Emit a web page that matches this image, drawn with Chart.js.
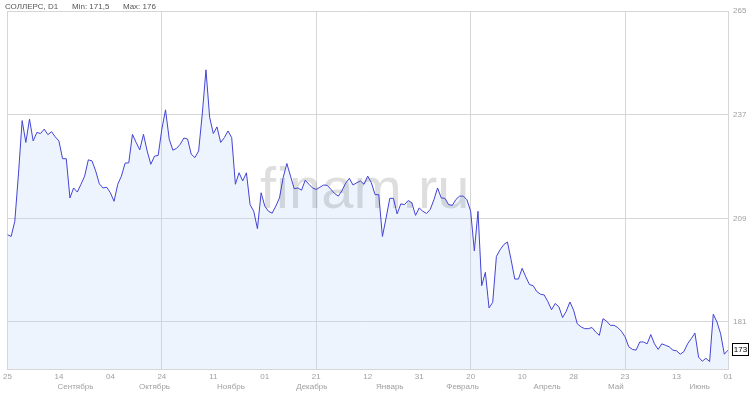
<!DOCTYPE html>
<html><head><meta charset="utf-8">
<script src="https://cdn.jsdelivr.net/npm/chart.js@4.4.1/dist/chart.umd.min.js"></script>
<style>
html,body{margin:0;padding:0;background:#fff;}
#wrap{position:relative;width:750px;height:394px;overflow:hidden;}
canvas{position:absolute;left:0;top:0;}
.hdr{position:absolute;top:2px;font:8px "Liberation Sans",Arial,sans-serif;color:#555;white-space:nowrap;}
</style></head><body>
<div id="wrap">
<canvas id="c" width="750" height="394"></canvas>
<span class="hdr" style="left:5px">СОЛЛЕРС, D1</span>
<span class="hdr" style="left:72px">Min: 171,5</span>
<span class="hdr" style="left:123px">Max: 176</span>
</div>
<script>
const prices = [
204.6,204.1,208.2,221,235.4,229.5,235.8,229.9,232.2,231.9,
233.1,231.6,232.4,231.0,229.9,225.1,225.1,214.5,217.2,216.1,
218.2,220.4,224.8,224.5,221.8,218.3,217.2,217.4,215.9,213.6,
218.2,220.4,223.9,224.0,231.7,229.5,227.5,231.7,227.2,223.6,
225.8,226.0,233.1,238.3,230.4,227.4,227.9,229.0,230.7,230.4,
226.3,225.4,227.2,237.2,249.1,236.3,231.9,233.7,229.5,230.8,
232.6,230.8,218.2,221.3,219.1,221.3,212.7,210.9,206.2,215.9,
212.3,210.9,210.4,212.3,214.5,220,223.8,220.4,217.0,217.2,
216.6,219.3,218.2,217.2,216.8,217.4,218.0,217.9,216.8,215.7,
215.0,216.5,218.5,219.8,218.0,218.6,219.1,218.2,220.4,218.6,
215.4,215.4,204.1,209.1,214.4,214.4,210.2,212.9,212.7,213.8,
213.2,209.8,211.8,210.9,210.3,211.4,214,217.2,214.5,214.4,
212.7,212.5,214.1,215.0,215.0,214,210.9,200.2,210.9,190.8,
194.4,184.8,186.3,198.7,200.5,201.9,202.6,197.8,192.6,192.6,
195.5,193.2,191.1,190.8,189.2,188.5,188.3,186.5,184.3,186.0,
185.1,182.2,183.9,186.4,184.2,180.5,179.7,179.2,179.2,179.5,
178.3,177.4,181.9,181.2,180.1,180.1,179.5,178.5,177.0,174.3,
173.6,173.4,175.6,175.6,175.1,177.6,175.1,173.6,175.1,174.7,
174.3,173.4,173.2,172.3,173.0,175.1,176.5,178.0,171.5,170.4,
171.2,170.3,183.1,181.0,177.8,172.3,173.4
];
const dayTickIdx = [0,14,28,42,56,70,84,98,112,126,140,154,168,182,196];
const dayLabels = ['25','14','04','24','11','01','21','12','31','20','10','28','23','13','01'];
const monthIdx = [18.5,40,60.8,82.8,104,123.8,146.8,165.5,188.3];
const monthLabels = ['Сентябрь','Октябрь','Ноябрь','Декабрь','Январь','Февраль','Апрель','Май','Июнь'];
const yTicks = [181,209,237,265];

const axisFont = {family:'"Liberation Sans", Arial, sans-serif', size:8};
const axisColor = '#a0a0a0';
const gridColor = '#d6d6d6';

const watermark = {
  id:'watermark',
  beforeDatasetsDraw(chart){
    const {ctx, chartArea:a} = chart;
    ctx.save();
    ctx.font = '58px "Liberation Sans", Arial, sans-serif';
    ctx.fillStyle = 'rgba(0,0,0,0.13)';
    ctx.textAlign = 'center';
    ctx.textBaseline = 'alphabetic';
    ctx.fillText('finam.ru', (a.left + a.right)/2 - 3, a.top + 197);
    ctx.restore();
  }
};
const lastBox = {
  id:'lastBox',
  afterDraw(chart){
    const {ctx, chartArea:a, scales} = chart;
    const v = prices[prices.length-1];
    const y = Math.round(scales.y.getPixelForValue(v));
    ctx.save();
    ctx.fillStyle = '#fff';
    ctx.fillRect(a.right + 4.5, y - 6.5, 16, 12);
    ctx.strokeStyle = '#000';
    ctx.lineWidth = 1;
    ctx.strokeRect(a.right + 4.5, y - 6.5, 16, 12);
    ctx.fillStyle = '#000';
    ctx.font = '8px "Liberation Sans", Arial, sans-serif';
    ctx.textAlign = 'center';
    ctx.textBaseline = 'middle';
    ctx.fillText(String(Math.round(v)), a.right + 12.5, y);
    ctx.restore();
  }
};

new Chart(document.getElementById('c'), {
  type:'line',
  data:{
    datasets:[{
      data: prices.map((v,i)=>({x:i,y:v})),
      borderColor:'#4444d4',
      borderWidth:1,
      pointRadius:0,
      tension:0,
      fill:'start',
      backgroundColor:'rgba(190,215,248,0.28)'
    }]
  },
  options:{
    responsive:false,
    animation:false,
    devicePixelRatio:1,
    layout:{padding:{top:11,left:6,right:0,bottom:0}},
    plugins:{legend:{display:false},tooltip:{enabled:false},title:{display:false},
      filler:{drawTime:'beforeDatasetsDraw'}},
    scales:{
      x:{
        type:'linear', min:0, max:196, position:'bottom', weight:0,
        afterBuildTicks:s=>{s.ticks = dayTickIdx.map(v=>({value:v}));},
        afterFit:s=>{s.height = 13;},
        ticks:{callback:(v,i)=>dayLabels[i], autoSkip:false, maxRotation:0, padding:3, font:axisFont, color:axisColor},
        grid:{drawTicks:false, color:ctx=>(ctx.index%3===0 ? gridColor : 'rgba(0,0,0,0)')},
        border:{display:true, color:gridColor}
      },
      x2:{
        type:'linear', min:0, max:196, position:'bottom', weight:1,
        afterBuildTicks:s=>{s.ticks = monthIdx.map(v=>({value:v}));},
        afterFit:s=>{s.height = 12;},
        ticks:{callback:(v,i)=>monthLabels[i], autoSkip:false, maxRotation:0, padding:0, font:axisFont, color:axisColor},
        grid:{display:false, drawTicks:false},
        border:{display:false}
      },
      y:{
        type:'linear', position:'right', min:168.3, max:265,
        afterBuildTicks:s=>{s.ticks = yTicks.map(v=>({value:v}));},
        afterFit:s=>{s.width = 22;},
        ticks:{callback:v=>String(v), padding:5, font:axisFont, color:axisColor},
        grid:{drawTicks:false, color:gridColor},
        border:{display:true, color:gridColor}
      }
    }
  },
  plugins:[watermark, lastBox]
});
</script>
</body></html>
